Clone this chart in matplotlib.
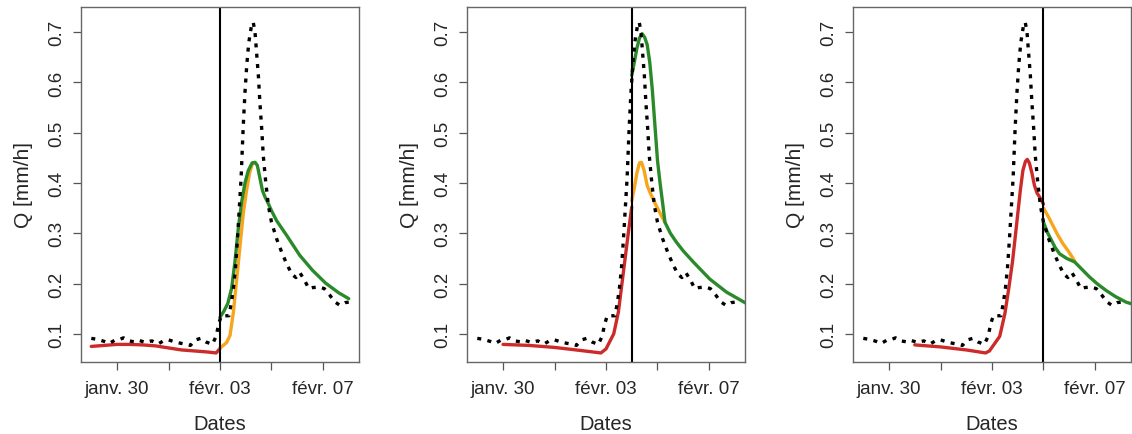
import matplotlib
matplotlib.use('Agg')
import matplotlib.pyplot as plt
import numpy as np

plt.rcParams['font.family'] = ['Liberation Sans', 'DejaVu Sans']

# time in days since janv. 29 00:00
obs_t = [0.0, 0.25, 0.5, 0.7, 0.9, 1.1, 1.25, 1.45, 1.7, 1.85, 2.1, 2.35, 2.6, 2.8,
         3.0, 3.3, 3.6, 3.85, 4.05, 4.25, 4.45, 4.7, 4.85, 4.95, 5.05, 5.35, 5.45,
         5.52, 5.6, 5.68, 5.75, 5.82, 5.9, 5.97, 6.04, 6.12, 6.22, 6.29, 6.36, 6.42,
         6.49, 6.55, 6.62, 6.68, 6.78, 6.88, 7.0, 7.2, 7.4, 7.6, 7.8, 7.95, 8.1,
         8.3, 8.45, 8.6, 8.85, 9.05, 9.25, 9.45, 9.65, 9.85, 10.0]
obs_q = [0.091, 0.089, 0.085, 0.081, 0.087, 0.089, 0.092, 0.086, 0.084, 0.087, 0.083,
         0.086, 0.080, 0.086, 0.088, 0.083, 0.080, 0.077, 0.088, 0.091, 0.084, 0.079,
         0.095, 0.120, 0.136, 0.136, 0.165, 0.190, 0.230, 0.290, 0.350, 0.410, 0.510,
         0.580, 0.635, 0.680, 0.712, 0.720, 0.700, 0.660, 0.614, 0.560, 0.508, 0.455,
         0.400, 0.355, 0.322, 0.289, 0.262, 0.238, 0.218, 0.212, 0.222, 0.205, 0.190,
         0.192, 0.193, 0.190, 0.178, 0.164, 0.157, 0.162, 0.163]

forecast_days = [5.0, 6.0, 7.0]

# panel 1 (prevision fevr. 03)
p1_red_t = [0.0, 0.5, 1.0, 1.5, 2.0, 2.5, 3.0, 3.5, 4.0, 4.5, 4.85, 5.0]
p1_red_q = [0.075, 0.077, 0.079, 0.079, 0.078, 0.076, 0.072, 0.068, 0.066, 0.064, 0.062, 0.071]
p1_orange_t = [5.0, 5.15, 5.26, 5.39, 5.52, 5.65, 5.78, 5.91, 6.04, 6.15, 6.25, 6.36]
p1_orange_q = [0.072, 0.078, 0.083, 0.097, 0.143, 0.209, 0.276, 0.342, 0.388, 0.420, 0.437, 0.441]
p1_green_t = [5.0, 5.15, 5.3, 5.45, 5.58, 5.71, 5.84, 5.97, 6.1, 6.25, 6.36, 6.45, 6.55,
              6.65, 6.75, 6.85, 7.0, 7.2, 7.6, 8.1, 8.6, 9.1, 9.6, 10.0]
p1_green_q = [0.133, 0.145, 0.160, 0.190, 0.243, 0.309, 0.362, 0.400, 0.425, 0.440, 0.441,
              0.435, 0.410, 0.385, 0.372, 0.362, 0.345, 0.325, 0.295, 0.256, 0.226, 0.201,
              0.182, 0.170]

# panel 2 (prevision fevr. 04)
p2_red_t = [1.0, 2.0, 3.0, 4.0, 4.8, 5.0, 5.3, 5.48, 5.61, 5.74, 5.87, 6.0]
p2_red_q = [0.079, 0.077, 0.073, 0.067, 0.062, 0.070, 0.100, 0.143, 0.196, 0.249, 0.302, 0.352]
p2_orange_t = [6.0, 6.1, 6.2, 6.3, 6.38, 6.48, 6.6, 6.72, 6.9, 7.1, 7.29]
p2_orange_q = [0.365, 0.390, 0.420, 0.440, 0.441, 0.425, 0.395, 0.380, 0.360, 0.340, 0.322]
p2_green_t = [6.0, 6.1, 6.2, 6.3, 6.4, 6.5, 6.6, 6.7, 6.8, 6.9, 7.0, 7.1, 7.2, 7.29, 7.5,
              7.74, 8.0, 8.39, 9.03, 9.68, 10.4, 11.0]
p2_green_q = [0.614, 0.640, 0.668, 0.688, 0.697, 0.690, 0.675, 0.640, 0.585, 0.515, 0.445,
              0.400, 0.360, 0.322, 0.300, 0.282, 0.265, 0.243, 0.209, 0.183, 0.162, 0.150]

# panel 3 (prevision fevr. 05)
p3_red_t = [2.0, 3.0, 4.0, 4.75, 4.9, 5.3, 5.5, 5.65, 5.8, 5.95, 6.1, 6.2, 6.3, 6.37,
            6.45, 6.55, 6.65, 6.75, 6.85, 7.0]
p3_red_q = [0.078, 0.074, 0.068, 0.062, 0.066, 0.095, 0.140, 0.190, 0.245, 0.315, 0.385,
            0.425, 0.443, 0.447, 0.440, 0.420, 0.395, 0.380, 0.372, 0.358]
p3_orange_t = [7.0, 7.2, 7.37, 7.55, 7.76, 8.0, 8.21]
p3_orange_q = [0.350, 0.332, 0.315, 0.297, 0.279, 0.262, 0.245]
p3_green_t = [7.0, 7.15, 7.31, 7.45, 7.63, 7.9, 8.21, 8.5, 8.79, 9.1, 9.44, 9.8, 10.21, 10.6]
p3_green_q = [0.322, 0.302, 0.286, 0.272, 0.259, 0.250, 0.243, 0.228, 0.213, 0.199, 0.186,
              0.174, 0.163, 0.157]

tick_days = [1, 3, 5, 7, 9]
tick_labels = ['janv. 30', '', 'févr. 03', '', 'févr. 07']
y_ticks = [0.1, 0.2, 0.3, 0.4, 0.5, 0.6, 0.7]

panels = [
    (p1_red_t, p1_red_q, p1_orange_t, p1_orange_q, p1_green_t, p1_green_q),
    (p2_red_t, p2_red_q, p2_orange_t, p2_orange_q, p2_green_t, p2_green_q),
    (p3_red_t, p3_red_q, p3_orange_t, p3_orange_q, p3_green_t, p3_green_q),
]

RED = '#cd2a2a'
ORANGE = '#f7a51c'
GREEN = '#2a8a2a'
TXT = '#262626'


def set_axes(ax):
    ax.set_xlim([-0.4, 10.4])
    ax.set_ylim([0.044, 0.75])
    ax.set_xticks(tick_days)
    ax.set_xticklabels(tick_labels)
    ax.set_yticks(y_ticks)
    ax.set_yticklabels(['%.1f' % v for v in y_ticks], rotation=90, va='center')
    ax.tick_params(axis='both', direction='out', length=6, width=0.9, color='#555555',
                   labelsize=13.5, labelcolor=TXT)
    ax.tick_params(axis='x', pad=7)
    ax.tick_params(axis='y', pad=5)
    for s in ax.spines.values():
        s.set_color('#666666')
        s.set_linewidth(1.0)
    ax.set_xlabel('Dates', fontsize=14.5, color=TXT, labelpad=12)
    ax.set_ylabel('Q [mm/h]', fontsize=15, color=TXT, labelpad=11)


def plot_panel(ax, data, t0):
    red_t, red_q, or_t, or_q, gr_t, gr_q = data
    ax.plot(red_t, red_q, color=RED, lw=2.4, solid_capstyle='round')
    ax.plot(or_t, or_q, color=ORANGE, lw=2.4, solid_capstyle='round')
    ax.plot(gr_t, gr_q, color=GREEN, lw=2.4, solid_capstyle='round')
    ax.plot(obs_t, obs_q, color='k', lw=2.4, linestyle=(0, (1.2, 1.9)))
    ax.axvline(t0, color='k', lw=1.5)
    set_axes(ax)


fig = plt.figure(figsize=(11.32, 4.35), dpi=100)
lefts = [81, 467, 853]
for i in range(3):
    ax = fig.add_axes([lefts[i] / 1132., 1 - 363 / 435., 278 / 1132., 355 / 435.])
    plot_panel(ax, panels[i], forecast_days[i])

plt.savefig('out.png', dpi=100)
